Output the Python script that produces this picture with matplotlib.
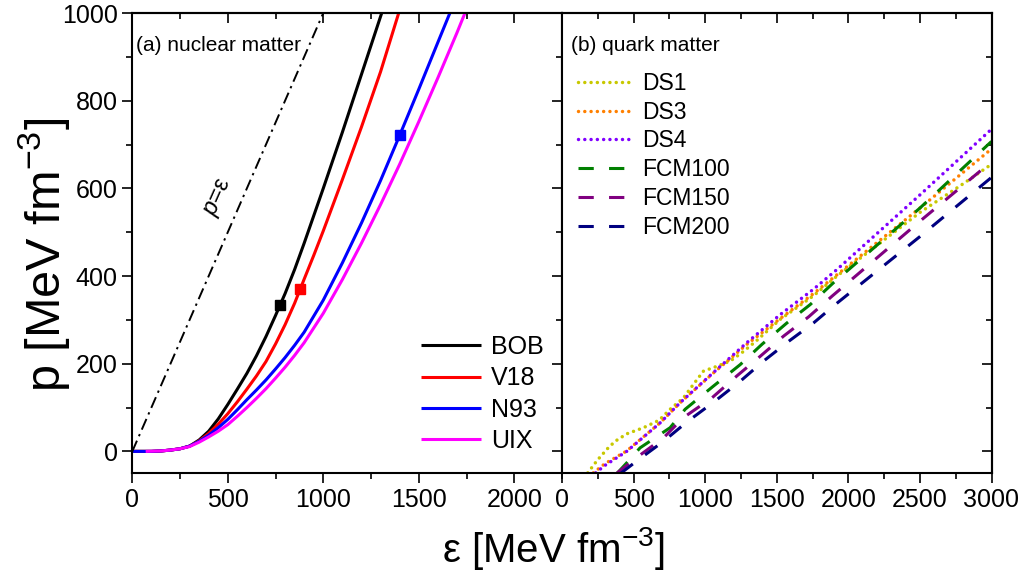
import matplotlib
matplotlib.use("Agg")
import matplotlib.pyplot as plt
from matplotlib.ticker import MultipleLocator

plt.rcParams['font.family'] = ['Liberation Sans', 'DejaVu Sans']
plt.rcParams['mathtext.fontset'] = 'custom'
plt.rcParams['mathtext.rm'] = 'Liberation Sans'
plt.rcParams['mathtext.it'] = 'Liberation Sans:italic'
plt.rcParams['mathtext.bf'] = 'Liberation Sans:bold'

# ---------------- data: (a) nuclear matter ----------------
bob_e = [0, 100, 150, 200, 250, 300, 350, 400, 450, 500, 550, 600, 650, 700, 750, 800, 850,
         900, 1000, 1100, 1200, 1306]
bob_p = [0, 0, 1, 3, 6, 12, 26, 46, 74, 107, 142, 178, 218, 262, 310, 360, 415,
         475, 600, 728, 860, 1000]
v18_e = [0, 100, 150, 200, 250, 300, 350, 400, 450, 500, 550, 600, 650, 700, 750, 800, 850,
         900, 950, 1000, 1100, 1200, 1300, 1395]
v18_p = [0, 0, 1, 3, 6, 12, 24, 41, 62, 86, 113, 142, 172, 205, 245, 289, 338,
         393, 447, 503, 620, 740, 866, 1000]
n93_e = [0, 100, 150, 200, 250, 300, 350, 400, 450, 500, 550, 600, 650, 700, 750, 800, 850,
         900, 1000, 1100, 1200, 1300, 1401, 1500, 1600, 1663]
n93_p = [0, 0, 1, 3, 6, 12, 23, 37, 54, 73, 95, 118, 140, 163, 188, 214, 242,
         272, 345, 430, 521, 618, 722, 826, 933, 1000]
uix_e = [70, 150, 200, 250, 300, 350, 400, 450, 500, 550, 600, 650, 700, 750, 800, 850,
         900, 1000, 1100, 1200, 1300, 1400, 1500, 1600, 1700, 1742]
uix_p = [0, 1, 3, 6, 11, 21, 33, 46, 61, 80, 100, 121, 143, 167, 192, 219,
         248, 315, 392, 475, 563, 655, 752, 852, 955, 1000]

nuc_labels = ['BOB', 'V18', 'N93', 'UIX']
nuc_colors = ['#000000', '#FF0000', '#0000FF', '#FF00FF']
# marker points (maximum-mass configurations)
mark_e = [773, 878, 1401]
mark_p = [335, 371, 722]
mark_colors = ['#000000', '#FF0000', '#0000FF']

causal_e = [0, 1100]
causal_p = [0, 1100]

# ---------------- data: (b) quark matter ----------------
ds1_e = [180, 247, 317, 371, 452, 569, 678, 755, 848, 918, 988, 1081, 1175, 1256, 1350, 1524, 1757, 1921, 2200, 2500, 2800, 3000]
ds1_p = [-49, -20, 6, 23, 40, 54, 71, 96, 122, 153, 183, 194, 206, 225, 250, 301, 355, 400, 470, 545, 610, 655]
ds3_e = [219, 300, 452, 685, 825, 1058, 1291, 1524, 1757, 1921, 2500, 3000]
ds3_p = [-49, -28, 1, 65, 111, 179, 244, 303, 360, 403, 555, 690]
ds4_e = [235, 300, 452, 685, 825, 1058, 1291, 1524, 1757, 1921, 2500, 3000]
ds4_p = [-49, -32, 0, 65, 111, 180, 248, 312, 370, 415, 585, 735]
fcm100_e = [385, 464, 545, 755, 860, 1058, 1245, 1396, 1571, 1734, 1897, 2500, 3000]
fcm100_p = [-50, -22, 8, 54, 96, 149, 198, 244, 293, 335, 385, 555, 707]
fcm150_e = [382, 522, 709, 848, 1047, 1221, 1385, 1548, 1723, 1886, 2500, 3000]
fcm150_p = [-50, -14, 31, 77, 122, 172, 217, 263, 307, 354, 525, 661]
fcm200_e = [410, 522, 709, 872, 1070, 1245, 1408, 1583, 1757, 1909, 2500, 3000]
fcm200_p = [-50, -22, 23, 67, 115, 160, 206, 251, 293, 335, 490, 625]

q_labels = ['DS1', 'DS3', 'DS4', 'FCM100', 'FCM150', 'FCM200']
q_colors = ['#C8C800', '#FF8000', '#8000FF', '#008000', '#800080', '#000080']

# ---------------- figure ----------------
W, H = 1033, 571
fig = plt.figure(figsize=(W / 100, H / 100), dpi=100)
L, M, R = 132.3, 562.0, 991.5
T, B = 13.0, 473.3
ax1 = fig.add_axes([L / W, 1 - B / H, (M - L) / W, (B - T) / H])
ax2 = fig.add_axes([M / W, 1 - B / H, (R - M) / W, (B - T) / H])

lw = 2.2
nuc = [(bob_e, bob_p), (v18_e, v18_p), (n93_e, n93_p), (uix_e, uix_p)]
for (e, p), lab, c in zip(nuc, nuc_labels, nuc_colors):
    ax1.plot(e, p, color=c, lw=lw, label=lab, solid_capstyle='butt',
             solid_joinstyle='round')
for e, p, c in zip(mark_e, mark_p, mark_colors):
    ax1.plot([e], [p], marker='s', ms=7, color=c, ls='none')
ax1.plot(causal_e, causal_p, color='black', lw=1.4, dashes=(6, 2.5, 1.2, 2.5))
ax1.text(454, 579, r'$p$=ε', rotation=66, ha='center', va='center', fontsize=17)
ax1.text(0.008, 0.95, '(a) nuclear matter', transform=ax1.transAxes,
         ha='left', va='top', fontsize=15)

ax1.set_xlim(0, 2250)
ax1.set_ylim(-50, 1000)

quark = [(ds1_e, ds1_p), (ds3_e, ds3_p), (ds4_e, ds4_p),
         (fcm100_e, fcm100_p), (fcm150_e, fcm150_p), (fcm200_e, fcm200_p)]
for i, ((e, p), lab, c) in enumerate(zip(quark, q_labels, q_colors)):
    if i < 3:
        ax2.plot(e, p, color=c, lw=2.5, label=lab, dashes=(0.01, 1.8),
                 dash_capstyle='round')
    else:
        ax2.plot(e, p, color=c, lw=lw, label=lab, dashes=(5, 5))
ax2.text(0.022, 0.95, '(b) quark matter', transform=ax2.transAxes,
         ha='left', va='top', fontsize=15)
ax2.set_xlim(0, 3000)
ax2.set_ylim(-50, 1000)

for ax in (ax1, ax2):
    for s in ax.spines.values():
        s.set_linewidth(1.5)
    ax.xaxis.set_major_locator(MultipleLocator(500))
    ax.xaxis.set_minor_locator(MultipleLocator(250))
    ax.yaxis.set_major_locator(MultipleLocator(200))
    ax.yaxis.set_minor_locator(MultipleLocator(100))
    ax.tick_params(which='major', length=7, width=1.2, labelsize=18)
    ax.tick_params(which='minor', length=4.3, width=1.2)
    ax.tick_params(axis='x', which='major', bottom=True, top=False, direction='out', length=7)
    ax.tick_params(axis='x', which='minor', bottom=True, top=False, direction='out', length=4.3)
    sec = ax.secondary_xaxis('top')
    sec.xaxis.set_major_locator(MultipleLocator(500))
    sec.xaxis.set_minor_locator(MultipleLocator(250))
    sec.tick_params(axis='x', which='major', direction='in', length=7, width=1.2, labeltop=False)
    sec.tick_params(axis='x', which='minor', direction='in', length=4.3, width=1.2)
    sec.spines['top'].set_linewidth(1.5)

ax1.tick_params(axis='y', which='both', left=True, right=False, direction='out')
sec1 = ax1.secondary_yaxis('right')
sec1.yaxis.set_major_locator(MultipleLocator(200))
sec1.yaxis.set_minor_locator(MultipleLocator(100))
sec1.tick_params(axis='y', which='major', direction='in', length=7, width=1.2, labelright=False)
sec1.tick_params(axis='y', which='minor', direction='in', length=4.3, width=1.2)

ax2.tick_params(axis='y', which='both', left=False, right=False, labelleft=False)
sec2 = ax2.secondary_yaxis('right')
sec2.yaxis.set_major_locator(MultipleLocator(200))
sec2.yaxis.set_minor_locator(MultipleLocator(100))
sec2.tick_params(axis='y', which='major', direction='in', length=7, width=1.2, labelright=False)
sec2.tick_params(axis='y', which='minor', direction='in', length=4.3, width=1.2)
sec2.spines['right'].set_linewidth(1.5)

ax1.legend(loc='upper left', bbox_to_anchor=(0.672, 0.300), frameon=False,
           fontsize=18, handlelength=2.4, handletextpad=0.4, labelspacing=0.29,
           borderpad=0, borderaxespad=0)
ax2.legend(loc='upper left', bbox_to_anchor=(0.037, 0.872), frameon=False,
           fontsize=16.5, handlelength=2.4, handletextpad=0.4, labelspacing=0.25,
           borderpad=0, borderaxespad=0)

fig.text(553 / W, 1 - 548 / H, 'ε [MeV fm$^{-3}$]', ha='center', va='center', fontsize=29)
fig.text(44 / W, 1 - 255 / H, 'p [MeV fm$^{-3}$]', ha='center', va='center',
         fontsize=35, rotation=90)

fig.savefig('out.png', dpi=100)
